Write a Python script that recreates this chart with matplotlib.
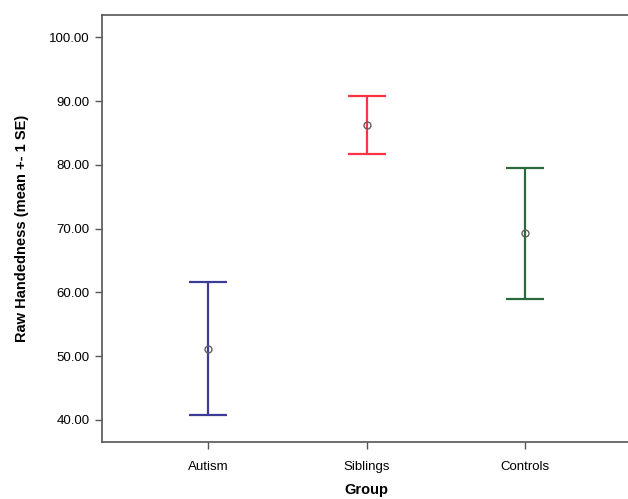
import numpy as np
from matplotlib import pyplot as plt

groups = ['Autism', 'Siblings', 'Controls']
means = [51.1, 86.25, 69.3]
upper = [61.6, 90.8, 79.5]
lower = [40.7, 81.7, 59.0]
colors = ['#3c3c96', '#ff3344', '#2a6a3c']
yticks = [40, 50, 60, 70, 80, 90, 100]

plt.rcParams['font.family'] = ['Liberation Sans', 'DejaVu Sans']

fig = plt.figure(figsize=(6.28, 4.99), dpi=100)
ax = fig.add_axes([0.1624, 0.115, 0.843, 0.855])

x = np.arange(1, len(groups) + 1)
for xi, m, lo, hi, c in zip(x, means, lower, upper, colors):
    ax.errorbar([xi], [m], yerr=[[m - lo], [hi - m]], fmt='none',
                ecolor=c, elinewidth=1.6, capsize=13.7, capthick=1.6)
    ax.plot([xi], [m], 'o', ms=5, mfc='none', mec='#606060', mew=1.0)

ax.set_xlim(0.331, 3.669)
ax.set_ylim(36.6, 103.5)
ax.set_xticks(x)
ax.set_xticklabels(groups, fontsize=9.5)
ax.set_yticks(yticks)
ax.set_yticklabels(['%.2f' % v for v in yticks], fontsize=9.5)

for s in ['left', 'bottom', 'top']:
    ax.spines[s].set_color('#555555')
    ax.spines[s].set_linewidth(1.2)
ax.spines['right'].set_visible(False)
ax.tick_params(axis='y', direction='out', length=5, width=1, color='#555555', pad=4)
ax.tick_params(axis='x', direction='out', length=5, width=1, color='#555555', pad=9)

ax.set_xlabel('Group', fontsize=10.5, fontweight='bold', labelpad=7)
ax.set_ylabel('Raw Handedness (mean +- 1 SE)', fontsize=10.5, fontweight='bold', labelpad=14)

fig.savefig('out.png', dpi=100)
